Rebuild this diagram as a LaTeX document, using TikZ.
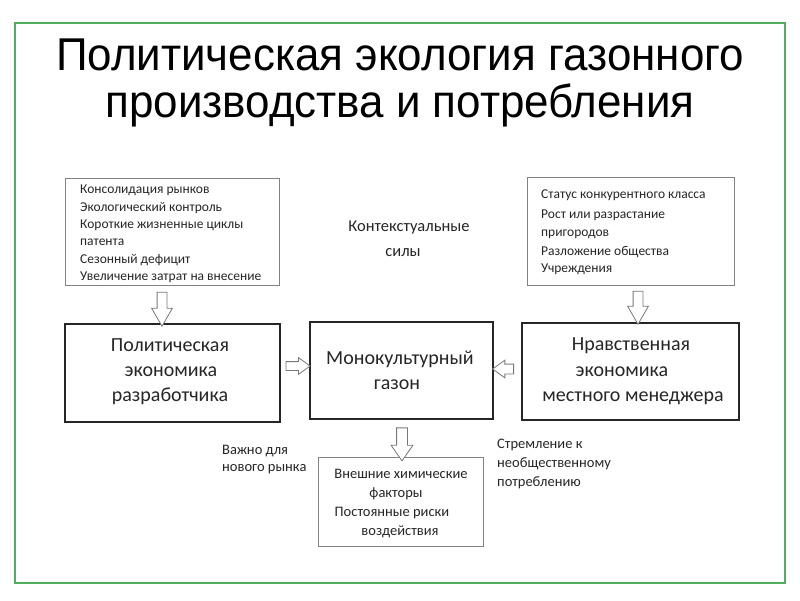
\documentclass[tikz,border=0pt]{standalone}
\usepackage{fontspec}
\setmainfont{Carlito}
\newfontfamily\titlefont{Liberation Sans}
\usetikzlibrary{shapes.arrows}
\definecolor{frameg}{RGB}{80,175,90}
\definecolor{boxgray}{RGB}{130,130,130}
\definecolor{arrgray}{RGB}{120,120,120}
\begin{document}
\begin{tikzpicture}[x=1pt,y=-1pt,
  thinbox/.style={draw=boxgray, line width=0.9pt, inner sep=0pt},
  thickbox/.style={draw=black!85, line width=1.8pt, inner sep=0pt},
  blockarrow/.style={single arrow, draw=arrgray, line width=0.8pt, fill=white,
    inner xsep=0pt, inner ysep=0pt, single arrow tip angle=60},
  titletxt/.style={font=\titlefont\fontsize{46}{49}\selectfont, xscale=0.955, inner sep=0pt, anchor=base},
  smalltxt/.style={font=\fontsize{13.5}{16}\selectfont, inner sep=0pt, anchor=base west, text=black!85},
  sidetxt/.style={font=\fontsize{14.5}{17}\selectfont, inner sep=0pt, text=black!85},
  ctxtxt/.style={font=\fontsize{16.5}{19}\selectfont, inner sep=0pt, anchor=base, text=black!85},
  midtxt/.style={font=\fontsize{20}{24}\selectfont, inner sep=0pt, anchor=base, text=black!85}]
\useasboundingbox (0,0) rectangle (800,600);
\fill[white] (0,0) rectangle (800,600);
\draw[frameg, line width=1.5pt] (15,23) rectangle (785,583);

% title
\node[titletxt] (title1) at (400,70) {Политическая экология газонного};
\node[titletxt] (title2) at (400,117) {производства и потребления};

% top boxes
\node[thinbox, minimum width=214pt, minimum height=107pt] (tl) at (172,231.5) {};
\foreach \t/\yy [count=\i] in {Консолидация рынков/190, Экологический контроль/208, Короткие жизненные циклы/225, патента/242, Сезонный дефицит/260, Увеличение затрат на внесение/277}
  \node[smalltxt] (tl\i) at (80,{\yy+3.3}) {\t};

\node[thinbox, minimum width=207pt, minimum height=108pt] (tr) at (630.5,231) {};
\foreach \t/\yy [count=\i] in {Статус конкурентного класса/195, Рост или разрастание/215, пригородов/233, Разложение общества/252, Учреждения/269}
  \node[smalltxt] (tr\i) at (541,{\yy+3.3}) {\t};

\node[ctxtxt] (ctx1) at (409,{228+3.9}) {Контекстуальные};
\node[ctxtxt] (ctx2) at (403,{253+3.9}) {силы};

% middle boxes
\node[thickbox, minimum width=215pt, minimum height=98pt] (pl) at (172.5,373) {};
\node[midtxt] (pl1) at (170,{347+4.7}) {Политическая};
\node[midtxt] (pl2) at (171,{372+4.7}) {экономика};
\node[midtxt] (pl3) at (170,{397+4.7}) {разработчика};

\node[thickbox, minimum width=183pt, minimum height=97pt] (mc) at (401.5,370.5) {};
\node[midtxt] (mc1) at (400,{360+4.7}) {Монокультурный};
\node[midtxt] (mc2) at (397,{385+4.7}) {газон};

\node[thickbox, minimum width=217pt, minimum height=97pt] (mr) at (630.5,371.5) {};
\node[midtxt] (mr1) at (631,{346+4.7}) {Нравственная};
\node[midtxt] (mr2) at (622,{372+4.7}) {экономика};
\node[midtxt] (mr3) at (633,{397+4.7}) {местного менеджера};

% bottom box
\node[thinbox, minimum width=165pt, minimum height=89pt] (bt) at (400.5,501.5) {};
\node[sidetxt, anchor=base] (bt1) at (401,{475+3.4}) {Внешние химические};
\node[sidetxt, anchor=base] (bt2) at (396,{494+3.4}) {факторы};
\node[sidetxt, anchor=base] (bt3) at (392,{513+3.4}) {Постоянные риски};
\node[sidetxt, anchor=base] (bt4) at (400,{532+3.4}) {воздействия};

% side labels
\node[sidetxt, anchor=base west] (vz1) at (222,{451+3.4}) {Важно для};
\node[sidetxt, anchor=base west] (vz2) at (222,{468+3.4}) {нового рынка};
\node[sidetxt, anchor=base west] (st1) at (497,{445+3.4}) {Стремление к};
\node[sidetxt, anchor=base west] (st2) at (497,{464+3.4}) {необщественному};
\node[sidetxt, anchor=base west] (st3) at (497,{483+3.4}) {потреблению};

% block arrows
\node[blockarrow, rotate=-90, minimum height=34pt, minimum width=20pt, single arrow head extend=5.5pt] (a1) at (162,305) {\rule{0pt}{9pt}};
\node[blockarrow, rotate=-90, minimum height=33pt, minimum width=20pt, single arrow head extend=5.5pt] (a2) at (638,303.5) {\rule{0pt}{9pt}};
\node[blockarrow, single arrow tip angle=72, minimum height=24pt, minimum width=16pt, single arrow head extend=4pt] (a3) at (295,366) {\rule{0pt}{8pt}};
\node[blockarrow, rotate=180, single arrow tip angle=72, minimum height=21pt, minimum width=17pt, single arrow head extend=4pt] (a4) at (506.5,369) {\rule{0pt}{9pt}};
\node[blockarrow, rotate=-90, single arrow tip angle=70, minimum height=33pt, minimum width=21pt, single arrow head extend=5.5pt] (a5) at (402,440.5) {\rule{0pt}{10pt}};
\end{tikzpicture}
\end{document}
